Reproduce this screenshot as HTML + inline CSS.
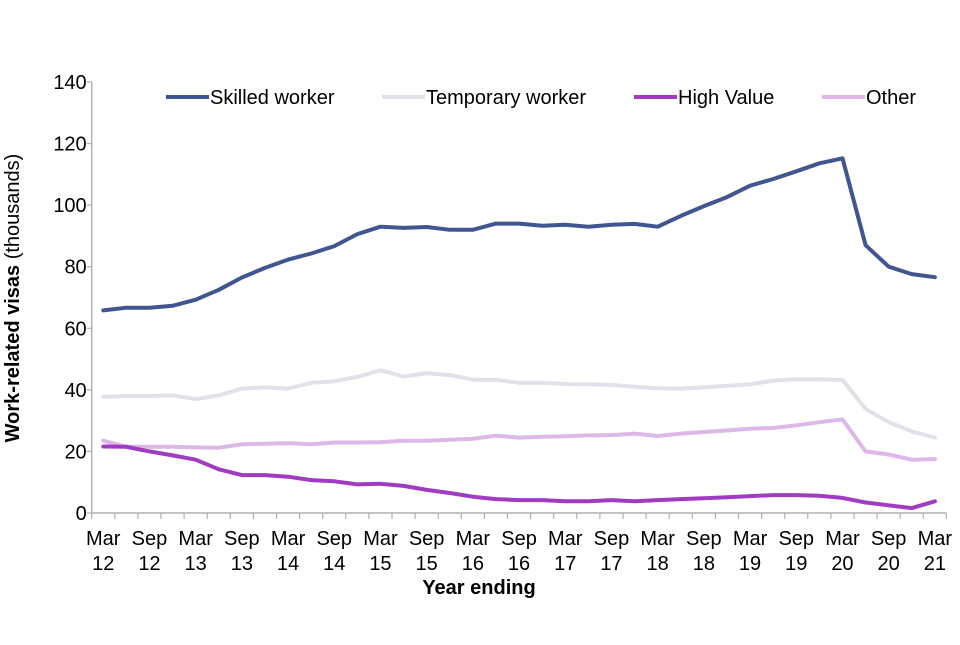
<!DOCTYPE html>
<html><head><meta charset="utf-8"><style>
body{margin:0;background:#fff}
svg text{font-family:"Liberation Sans",Arial,sans-serif;fill:#000}
</style></head><body>
<svg id="chart" width="960" height="640" viewBox="0 0 960 640" xmlns="http://www.w3.org/2000/svg">
<g id="axes"></g><g id="series"></g><g id="legend"></g>
</svg>
<script>
const categories = ["Mar 12","Jun 12","Sep 12","Dec 12","Mar 13","Jun 13","Sep 13","Dec 13","Mar 14","Jun 14","Sep 14","Dec 14","Mar 15","Jun 15","Sep 15","Dec 15","Mar 16","Jun 16","Sep 16","Dec 16","Mar 17","Jun 17","Sep 17","Dec 17","Mar 18","Jun 18","Sep 18","Dec 18","Mar 19","Jun 19","Sep 19","Dec 19","Mar 20","Jun 20","Sep 20","Dec 20","Mar 21"];
const skilled = [65.8,66.7,66.7,67.3,69.3,72.5,76.5,79.6,82.3,84.3,86.7,90.6,93,92.6,92.9,92,92,94,94,93.3,93.6,93,93.6,93.9,93,96.5,99.7,102.6,106.3,108.5,111,113.6,115.2,87,80,77.6,76.6];
const temporary = [37.7,38,38,38.2,37,38.2,40.4,40.8,40.4,42.3,42.8,44.2,46.4,44.3,45.4,44.8,43.3,43.3,42.3,42.3,41.9,41.8,41.6,41,40.5,40.4,40.8,41.3,41.8,43,43.5,43.4,43.2,33.8,29.5,26.5,24.5];
const highValue = [21.6,21.5,20,18.7,17.3,14.2,12.3,12.3,11.8,10.7,10.3,9.3,9.5,8.8,7.5,6.5,5.3,4.5,4.2,4.2,3.8,3.8,4.2,3.8,4.2,4.5,4.8,5.1,5.5,5.8,5.8,5.6,4.9,3.4,2.5,1.6,3.8];
const other = [23.5,21.5,21.5,21.5,21.3,21.2,22.3,22.5,22.7,22.3,22.9,22.9,23,23.5,23.5,23.8,24.1,25.1,24.5,24.8,24.9,25.2,25.3,25.8,25,25.8,26.3,26.8,27.4,27.6,28.5,29.5,30.4,20,19,17.3,17.5];
const yTicks = [0,20,40,60,80,100,120,140];
const seriesNames = ["Skilled worker","Temporary worker","High Value","Other"];

const NS="http://www.w3.org/2000/svg";
const x0=91.7, step=23.1, yBase=513, yTop=82, yMax=140;
const X=i=>x0+step*(i+0.5);
const Y=v=>yBase-(v/yMax)*(yBase-yTop);
function mk(tag,attrs,parent){const e=document.createElementNS(NS,tag);for(const k in attrs)e.setAttribute(k,attrs[k]);parent.appendChild(e);return e;}
const axes=document.getElementById('axes'), ser=document.getElementById('series'), leg=document.getElementById('legend');
const axC='#b0b0b0', FS=20;
let yAxis=mk('line',{x1:x0,y1:yTop,x2:x0,y2:yBase,stroke:axC,'stroke-width':1.5},axes);


let xAxis=mk('line',{x1:x0,y1:yBase,x2:x0+step*categories.length,y2:yBase,stroke:axC,'stroke-width':1.5},axes);


yTicks.forEach(v=>{
  mk('line',{x1:x0-5,y1:Y(v),x2:x0,y2:Y(v),stroke:axC,'stroke-width':1.2},axes);
  const t=mk('text',{x:x0-5,y:Y(v)+7,'text-anchor':'end','font-size':FS},axes);
  t.textContent=v;
  
  
});
for(let i=0;i<=categories.length;i++){
  mk('line',{x1:x0+step*i,y1:yBase,x2:x0+step*i,y2:yBase+6,stroke:axC,'stroke-width':1.2},axes);
}
categories.forEach((c,i)=>{
  if(i%2) return;
  const p=c.split(' ');
  const t=mk('text',{x:X(i),y:545,'text-anchor':'middle','font-size':FS},axes);
  t.textContent=p[0];
  
  
  const t2=mk('text',{x:X(i),y:570,'text-anchor':'middle','font-size':FS},axes);
  t2.textContent=p[1];
  
  
});
let xt=mk('text',{x:479,y:594,'text-anchor':'middle','font-size':FS,'font-weight':'bold'},axes);
xt.textContent='Year ending';


let yt=mk('text',{x:0,y:0,'text-anchor':'middle','font-size':FS,transform:'translate(19,298) rotate(-90)'},axes);
yt.innerHTML='<tspan font-weight="bold">Work-related visas</tspan> (thousands)';



const data=[skilled,temporary,highValue,other];
const colors=['#415591','#e3e0ea','#a03cc2','#dcb7e8'];
const order=[1,3,2,0];
order.forEach(k=>{
  const pts=data[k].map((v,i)=>X(i).toFixed(1)+','+Y(v).toFixed(1)).join(' ');
  const pl=mk('polyline',{points:pts,fill:'none',stroke:colors[k],'stroke-width':4,'stroke-linejoin':'round','stroke-linecap':'round'},ser);
  
  
});
const legX=[166,382,634,822];
seriesNames.forEach((n,k)=>{
  const g=mk('g',{},leg);
  
  
  mk('line',{x1:legX[k],y1:97,x2:legX[k]+43,y2:97,stroke:colors[k],'stroke-width':4},g);
  const t=mk('text',{x:legX[k]+44,y:104,'font-size':FS},g);
  t.textContent=n;
});
</script>
</body></html>
